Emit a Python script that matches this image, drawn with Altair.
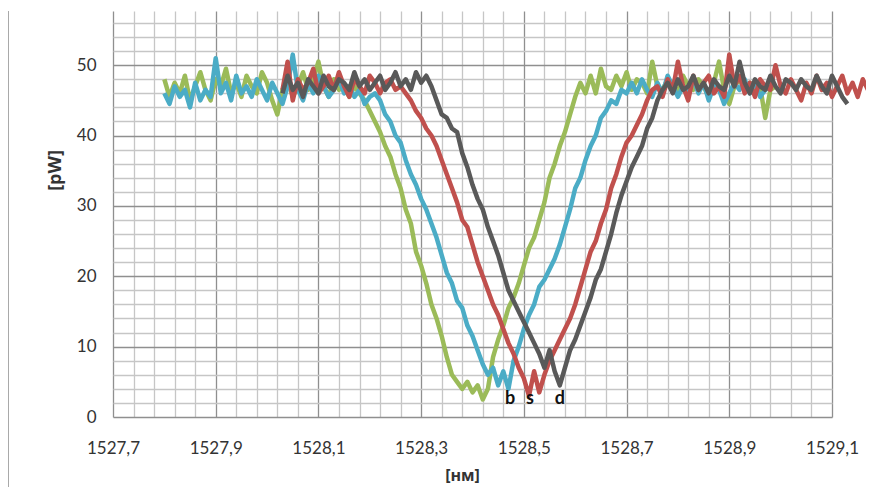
import altair as alt
import pandas as pd

# ---------------- data ----------------
STEP = 0.01

GREEN_START = 1527.80
GREEN = [
    48.0, 45.5, 47.5, 46.0, 48.5, 45.0, 47.0, 49.0, 46.5, 45.0,
    48.0, 47.0, 49.5, 46.0, 47.5, 45.5, 48.5, 47.0, 46.0, 49.0,
    47.5, 45.0, 43.0, 46.5, 48.0, 45.5, 47.0, 49.0, 46.5, 48.0,
    50.5, 47.0, 45.5, 48.0, 46.5, 47.0, 45.5, 47.0,
    46.0, 45.0, 43.5, 42.0, 40.5, 38.5, 37.0, 34.5, 32.5, 29.5,
    27.5, 23.5, 21.5, 19.0, 16.0, 14.0, 11.5, 8.5, 6.0, 5.0,
    4.0, 5.0, 3.5, 4.5, 2.5, 4.0, 8.5, 11.0, 13.0, 15.5,
    17.0, 19.0, 21.5, 24.0, 25.5, 28.0, 30.5, 34.0, 36.0, 38.5,
    40.5, 43.0, 45.5, 47.5, 46.0,
    48.5, 46.0, 49.5, 47.0, 46.5, 48.5, 47.0, 49.0, 46.5, 48.0,
    47.5, 46.0, 50.5, 47.0, 46.5, 48.0, 47.5, 46.0, 48.5, 47.0,
    46.5, 48.0, 47.0, 45.5, 47.5, 50.5, 46.5, 44.5, 47.0, 48.0,
    46.5, 47.5, 46.0, 47.0, 42.5, 46.5, 47.0,
]

BLUE_START = 1527.80
BLUE = [
    46.0, 44.5, 47.0, 45.5, 46.5, 44.0, 47.5, 45.0, 46.5, 45.5,
    51.0, 46.0, 47.5, 45.0, 48.5, 46.0, 47.0, 45.5, 48.0, 46.5,
    45.0, 47.5, 46.0, 44.5, 47.0, 51.5, 46.5, 45.0, 47.5, 46.0,
    48.5, 47.0, 45.5, 46.5, 48.0, 46.0, 47.0, 45.5, 46.5, 44.5,
    45.5, 46.0, 45.0,
    43.0, 42.0, 40.0, 39.0, 36.5, 34.5, 33.0, 31.0, 29.5, 27.5,
    25.5, 23.0, 20.5, 19.0, 16.5, 15.5, 13.0, 11.5, 9.5, 7.5,
    6.0, 7.0, 4.5, 6.5, 4.0, 8.0, 10.0, 12.5, 14.5, 16.0,
    18.5, 19.5, 21.0, 22.5, 24.5, 27.0, 29.5, 32.5, 34.0, 36.5,
    38.5, 40.0, 42.5, 43.5, 45.0, 44.5, 46.5, 46.0,
    47.5, 46.0, 48.0, 46.5, 45.5, 47.5, 46.0, 48.5, 47.0, 45.5,
    47.0, 46.5, 48.0, 46.0, 47.5, 45.0, 47.0, 46.5, 44.5, 46.0,
    47.5, 46.5, 48.0, 46.0, 47.5, 45.5, 46.5, 47.0,
]

RED_START = 1528.03
RED = [
    46.5, 50.5, 45.0, 48.0, 46.5, 47.5, 49.5, 46.0, 47.0, 48.5,
    46.5, 49.0, 47.0, 45.5, 48.0, 47.0, 46.0, 48.5, 47.5, 46.0,
    47.5, 48.0, 46.5, 47.0,
    46.0, 45.0, 43.5, 42.5, 41.0, 40.0, 38.5, 36.5, 34.5, 32.5,
    30.5, 28.0, 27.0, 24.5, 22.0, 20.0, 18.0, 16.0, 14.5, 12.5,
    10.5, 9.0, 7.0, 5.5, 3.0, 6.5, 3.5, 6.0, 8.0, 9.5,
    11.0, 12.5, 14.0, 16.0, 18.5, 21.0, 23.5, 25.0, 27.5, 29.5,
    32.5, 34.5, 37.0, 39.0, 40.0, 41.5, 43.0, 45.0, 46.5,
    47.0, 45.5, 48.0, 46.5, 50.5, 47.0, 45.0, 48.5, 46.5, 47.5,
    48.5, 46.0, 47.0, 45.5, 51.5, 47.0, 48.5, 46.0, 47.5, 45.5,
    48.0, 47.0, 46.5, 50.0, 47.0, 46.0, 48.0, 46.5, 45.0, 47.5,
    46.0, 48.5, 46.5, 47.5, 45.5, 47.0, 48.5, 46.0, 47.5, 45.5,
    48.0, 46.5,
]

GRAY_START = 1528.03
GRAY = [
    46.0, 48.5, 46.5, 47.5, 45.5, 48.0, 47.0, 46.0, 48.5, 47.0,
    46.5, 48.0, 47.5, 46.5, 49.0, 47.0, 48.0, 46.5, 47.5, 48.5,
    46.5, 47.5, 49.0, 47.0, 48.0, 46.5, 49.0, 47.5, 48.5, 47.0,
    45.0, 43.0, 42.5, 41.0, 40.5, 37.5, 35.5, 33.0, 31.0, 29.5,
    27.0, 25.0, 23.0, 20.5, 18.0, 16.5, 15.0, 13.5, 12.0, 10.5,
    9.0, 7.0, 9.5, 6.5, 4.5, 7.0, 9.5, 11.0, 13.0, 15.0,
    17.0, 19.5, 21.0, 23.5, 26.0, 29.0, 31.5, 33.5, 35.5, 37.0,
    38.5, 41.0, 42.5, 45.0, 46.5,
    47.5, 46.0, 48.0, 46.5, 47.0, 48.5, 46.5, 47.5, 46.0, 48.0,
    47.0, 46.5, 48.5, 47.0, 50.5, 47.5, 46.0, 48.0, 47.0, 46.5,
    48.5, 47.0, 46.0, 48.0, 47.5, 46.5, 48.0, 47.0, 46.5, 48.5,
    47.0, 46.0, 48.5, 47.0, 45.5, 44.5,
]

SERIES = [
    ("green", GREEN_START, GREEN, "#9BBB59"),
    ("blue", BLUE_START, BLUE, "#4BACC6"),
    ("red", RED_START, RED, "#C0504D"),
    ("gray", GRAY_START, GRAY, "#595959"),
]

LABEL_TEXT = ["b", "s", "d"]
LABEL_X = [1528.473, 1528.512, 1528.570]
LABEL_Y = [2.5, 2.5, 2.5]

X_MIN, X_MAX = 1527.7, 1529.1
Y_MIN, Y_MAX = 0, 57.7
X_TICKS = [round(X_MIN + 0.04 * k, 2) for k in range(36)]
Y_TICKS = list(range(0, 57, 2))

# ---------------- chart ----------------
rows = []
for name, start, vals, _ in SERIES:
    for i, v in enumerate(vals):
        rows.append({"s": name, "wl": round(start + STEP * i, 3), "p": v})
df = pd.DataFrame(rows)

x_major_test = "abs((datum.value - 1527.7) / 0.2 - round((datum.value - 1527.7) / 0.2)) < 0.01"

x_enc = alt.X(
    "wl:Q",
    scale=alt.Scale(domain=[X_MIN, X_MAX], nice=False, zero=False),
    axis=alt.Axis(
        values=X_TICKS,
        labelExpr=f"({x_major_test}) ? replace(format(datum.value, '.1f'), '.', ',') : ''",
        labelOverlap=False,
        labelFlush=False,
        labelFont="Lato",
        labelFontSize=17,
        labelColor="#333333",
        labelPadding=23,
        ticks=False,
        domain=False,
        grid=True,
        gridColor={"condition": {"test": x_major_test, "value": "#8f8f8f"}, "value": "#c6c6c6"},
        gridWidth=1.3,
        title="[нм]",
        titleFont="Open Sans",
        titleFontWeight="bold",
        titleFontSize=16,
        titleColor="#333333",
        titleX=349,
        titleY=58,
        titleAlign="center",
        titleBaseline="middle",
    ),
)

y_enc = alt.Y(
    "p:Q",
    scale=alt.Scale(domain=[Y_MIN, Y_MAX], nice=False, zero=False),
    axis=alt.Axis(
        values=Y_TICKS,
        labelExpr="datum.value % 10 == 0 ? datum.label : ''",
        labelOverlap=False,
        labelFont="Lato",
        labelFontSize=17,
        labelColor="#333333",
        labelPadding=17,
        ticks=False,
        domain=False,
        grid=True,
        gridColor={"condition": {"test": "datum.value % 10 == 0", "value": "#8f8f8f"}, "value": "#c6c6c6"},
        gridWidth=1.3,
        title="[pW]",
        titleFont="Open Sans",
        titleFontWeight="bold",
        titleFontSize=18,
        titleColor="#333333",
        titleAngle=270,
        titleX=-58,
        titleY=159,
        titleAlign="center",
        titleBaseline="middle",
    ),
)

base = alt.Chart(df).encode(x=x_enc, y=y_enc)

layers = []
for name, _, _, color in SERIES:
    layers.append(
        base.transform_filter(alt.datum.s == name).mark_line(
            color=color, strokeWidth=4.5, strokeJoin="round", clip=False
        )
    )

lab_df = pd.DataFrame({"t": LABEL_TEXT, "wl": LABEL_X, "p": LABEL_Y})
labels = alt.Chart(lab_df).mark_text(
    font="Lato", fontWeight="bold", fontSize=18, color="#111111", baseline="middle"
).encode(x=x_enc, y=y_enc, text="t:N")

frame = alt.Chart(pd.DataFrame({"k": [0]})).mark_rule(
    color="#8c8c8c", strokeWidth=1.5, clip=False
).encode(x=alt.value(-105), y=alt.value(0), y2=alt.value(480))

chart = alt.layer(*layers, labels, frame).properties(
    width=719,
    height=406,
    autosize=alt.AutoSizeParams(type="none"),
    padding={"left": 105, "top": 3, "right": 34, "bottom": 70},
).configure_view(strokeWidth=0)

chart.save("out.html", embed_options={"renderer": "svg", "actions": False})
